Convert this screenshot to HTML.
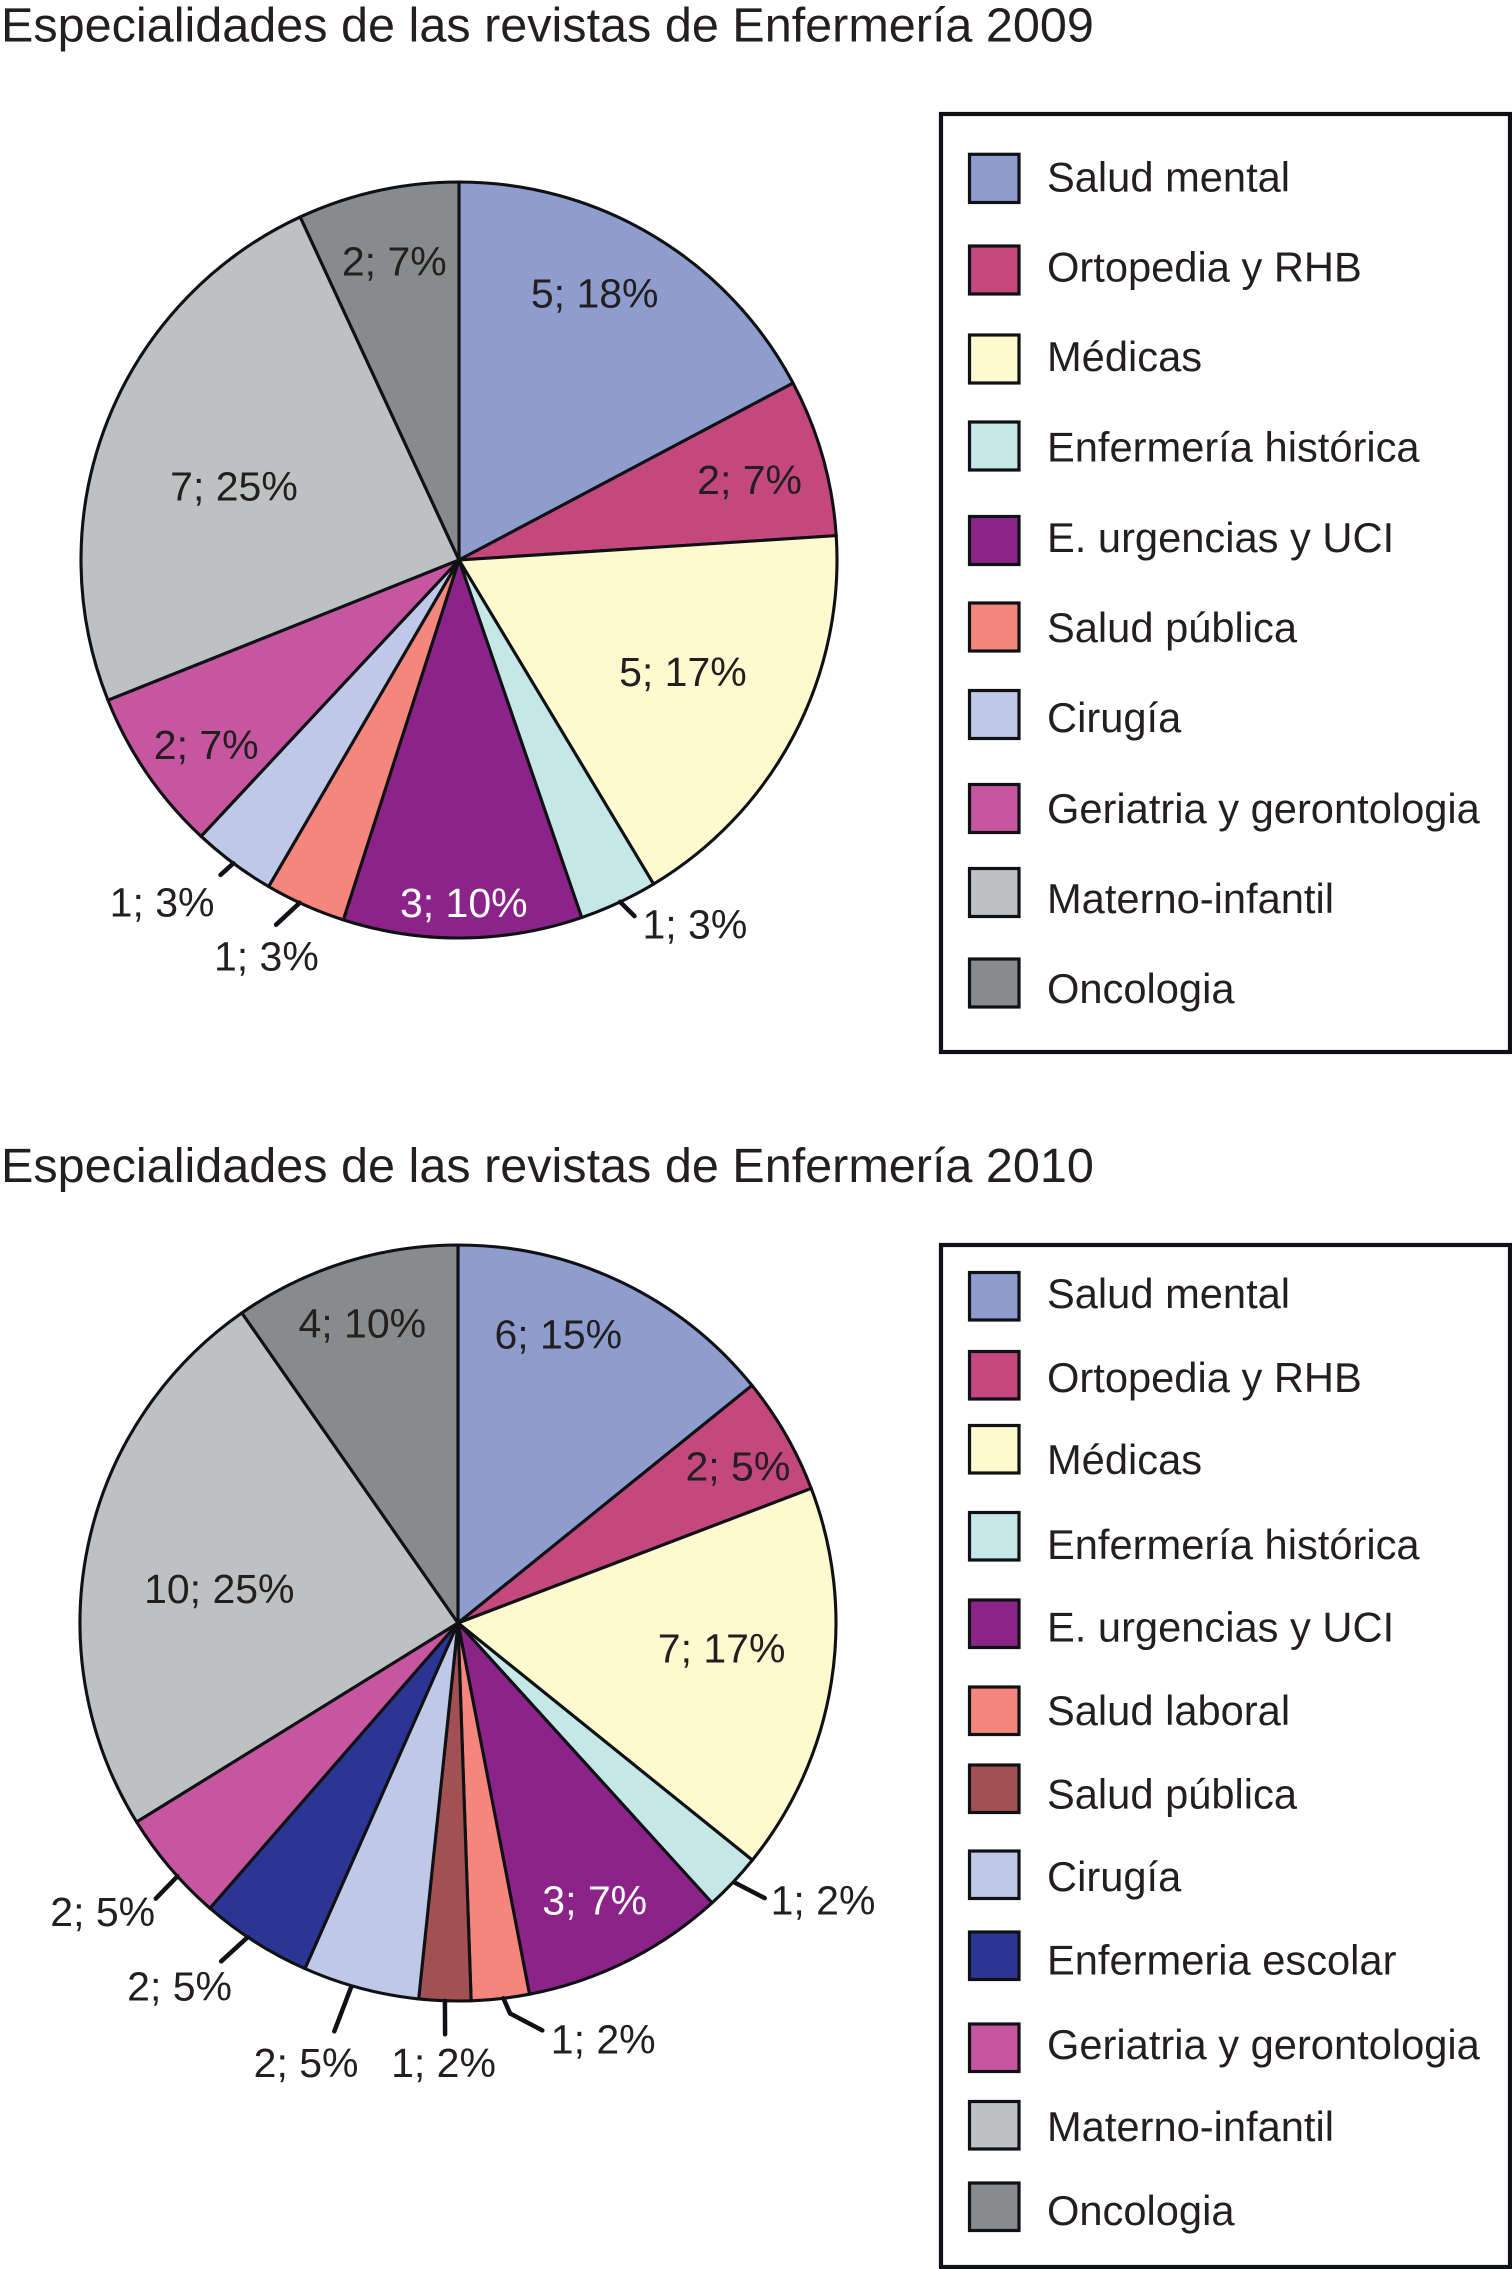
<!DOCTYPE html>
<html lang="es">
<head>
<meta charset="utf-8">
<title>Especialidades de las revistas de Enfermería</title>
<style>
  html, body { margin: 0; padding: 0; background: #fff; }
  svg { display: block; }
  text { font-family: "Liberation Sans", sans-serif; fill: #231f20; }
  .title { font-size: 48.55px; }
  .lg { font-size: 41.65px; }
  .sw { stroke: #0f1114; stroke-width: 3.2px; }
  .box { fill: #fff; stroke: #0f1114; stroke-width: 4.2px; }
</style>
</head>
<body>
<svg id="figure" xmlns="http://www.w3.org/2000/svg" width="1512" height="2269" viewBox="0 0 1512 2269">
  <text class="title" x="1" y="41.5">Especialidades de las revistas de Enfermería 2009</text>
  <g id="pie2009"></g>

  <g>
    <rect class="box" x="941" y="114" width="569" height="938"/>
    <g><rect class="sw" x="969.5" y="154.3" width="49.5" height="48.2" fill="#8f9dce"/><text class="lg" x="1047" y="191.6">Salud mental</text></g>
    <g><rect class="sw" x="969.5" y="246" width="49.5" height="48" fill="#c4477e"/><text class="lg" x="1047" y="281.5">Ortopedia y RHB</text></g>
    <g><rect class="sw" x="969.5" y="335" width="49.5" height="48" fill="#fef9cf"/><text class="lg" x="1047" y="371">Médicas</text></g>
    <g><rect class="sw" x="969.5" y="422" width="49.5" height="48" fill="#c5e7e8"/><text class="lg" x="1047" y="461.4">Enfermería histórica</text></g>
    <g><rect class="sw" x="969.5" y="516.5" width="49.5" height="48" fill="#8b2388"/><text class="lg" x="1047" y="552">E. urgencias y UCI</text></g>
    <g><rect class="sw" x="969.5" y="603" width="49.5" height="48" fill="#f4867e"/><text class="lg" x="1047" y="642">Salud pública</text></g>
    <g><rect class="sw" x="969.5" y="690.5" width="49.5" height="48" fill="#bfc8e6"/><text class="lg" x="1047" y="731.8">Cirugía</text></g>
    <g><rect class="sw" x="969.5" y="784.5" width="49.5" height="48" fill="#c6569f"/><text class="lg" x="1047" y="823">Geriatria y gerontologia</text></g>
    <g><rect class="sw" x="969.5" y="868.5" width="49.5" height="48" fill="#bdc1c2"/><text class="lg" x="1047" y="913">Materno-infantil</text></g>
    <g><rect class="sw" x="969.5" y="959" width="49.5" height="48" fill="#878b8c"/><text class="lg" x="1047" y="1002.8">Oncologia</text></g>
  </g>

  <text class="title" x="1" y="1182">Especialidades de las revistas de Enfermería 2010</text>
  <g id="pie2010"></g>

  <g>
    <rect class="box" x="941" y="1245" width="569" height="1022"/>
    <g><rect class="sw" x="969.5" y="1272.5" width="49.5" height="47.5" fill="#8f9dce"/><text class="lg" x="1047" y="1308">Salud mental</text></g>
    <g><rect class="sw" x="969.5" y="1351.5" width="49.5" height="47.5" fill="#c4477e"/><text class="lg" x="1047" y="1392">Ortopedia y RHB</text></g>
    <g><rect class="sw" x="969.5" y="1425.5" width="49.5" height="47.5" fill="#fef9cf"/><text class="lg" x="1047" y="1474.2">Médicas</text></g>
    <g><rect class="sw" x="969.5" y="1512.5" width="49.5" height="47.5" fill="#c5e7e8"/><text class="lg" x="1047" y="1559.2">Enfermería histórica</text></g>
    <g><rect class="sw" x="969.5" y="1600" width="49.5" height="47.5" fill="#8b2388"/><text class="lg" x="1047" y="1641.5">E. urgencias y UCI</text></g>
    <g><rect class="sw" x="969.5" y="1687" width="49.5" height="47.5" fill="#f4867e"/><text class="lg" x="1047" y="1725">Salud laboral</text></g>
    <g><rect class="sw" x="969.5" y="1765" width="49.5" height="47.5" fill="#a35053"/><text class="lg" x="1047" y="1808.7">Salud pública</text></g>
    <g><rect class="sw" x="969.5" y="1851" width="49.5" height="47.5" fill="#bfc8e6"/><text class="lg" x="1047" y="1891">Cirugía</text></g>
    <g><rect class="sw" x="969.5" y="1932" width="49.5" height="47.5" fill="#2b3694"/><text class="lg" x="1047" y="1974.7">Enfermeria escolar</text></g>
    <g><rect class="sw" x="969.5" y="2024" width="49.5" height="47.5" fill="#c6569f"/><text class="lg" x="1047" y="2059">Geriatria y gerontologia</text></g>
    <g><rect class="sw" x="969.5" y="2101.5" width="49.5" height="47.5" fill="#bdc1c2"/><text class="lg" x="1047" y="2141">Materno-infantil</text></g>
    <g><rect class="sw" x="969.5" y="2183" width="49.5" height="47.5" fill="#878b8c"/><text class="lg" x="1047" y="2225">Oncologia</text></g>
  </g>

<script>
// ---- data: 2009 (slice sizes as drawn) ----
const categories2009 = ["Salud mental","Ortopedia y RHB","Médicas","Enfermería histórica","E. urgencias y UCI","Salud pública","Cirugía","Geriatria y gerontologia","Materno-infantil","Oncologia"];
const values2009 = [5,1.95,5.05,0.97,2.96,1,1.03,2.03,7,2];
const printed2009 = ["5; 18%","2; 7%","5; 17%","1; 3%","3; 10%","1; 3%","1; 3%","2; 7%","7; 25%","2; 7%"];

// ---- data: 2010 (slice sizes as drawn; the purple slice is drawn larger than its printed count) ----
const categories2010 = ["Salud mental","Ortopedia y RHB","Médicas","Enfermería histórica","E. urgencias y UCI","Salud laboral","Salud pública","Cirugía","Enfermeria escolar","Geriatria y gerontologia","Materno-infantil","Oncologia"];
const values2010 = [5.9,2.09,6.9,1.03,3.62,1.03,0.92,2.07,1.98,1.99,10.04,4.03];
const printed2010 = ["6; 15%","2; 5%","7; 17%","1; 2%","3; 7%","1; 2%","1; 2%","2; 5%","2; 5%","2; 5%","10; 25%","4; 10%"];

// ---- styling ----
const colors2009 = ["#8f9dce","#c4477e","#fef9cf","#c5e7e8","#8b2388","#f4867e","#bfc8e6","#c6569f","#bdc1c2","#878b8c"];
const colors2010 = ["#8f9dce","#c4477e","#fef9cf","#c5e7e8","#8b2388","#f4867e","#a35053","#bfc8e6","#2b3694","#c6569f","#bdc1c2","#878b8c"];

// ---- label layout, relative to each slice's mid-angle: [angle offset in degrees, radius] ----
const labelLayout2009 = [[-4.1,299.5],[0.28,301.6],[-1.23,250],[-7.97,433.9],[-0.25,342.5],[1.9,440.4],[4.31,453],[-1.77,313],[-3.48,236.9],[0.21,305.9]];
const labelLayout2010 = [[-6.39,305.8],[0.63,320.9],[-3.63,264.8],[-6.12,458.2],[0.29,308.8],[-12.8,440.6],[-0.1,439.7],[4.13,465.2],[5.04,457.4],[1.3,457.6],[-3.45,241.2],[-0.25,315.1]];
const leaderLayout2009 = {3:[[-0.27,378],[-1.27,397]],5:[[0.9,378],[2.6,408]],6:[[0.01,378],[0.51,395]]};
const leaderLayout2010 = {3:[[-0.12,379],[-1.42,412]],5:[[-0.45,378],[-1.15,394],[-5.25,416]],6:[[0,378],[-0.2,411.5]],7:[[1.43,379],[1.93,426.6]],8:[[1.34,378],[2.54,413]],9:[[-1.7,378],[-2,409]]};
const whiteLabelIndex2009 = 4;
const whiteLabelIndex2010 = 4;

const NS = "http://www.w3.org/2000/svg";

function polar(cx, cy, deg, r) {
  const a = deg * Math.PI / 180;
  return [cx + r * Math.sin(a), cy - r * Math.cos(a)];
}

function slug(s) {
  return s.toLowerCase().normalize("NFD").replace(/[\u0300-\u036f]/g, "").replace(/[^a-z0-9]+/g, "-");
}

function drawPie(host, cx, cy, R, cats, vals, cols, printed, labelLayout, leaderLayout, whiteIdx) {
  const total = vals.reduce(function (a, b) { return a + b; }, 0);
  let cum = 0;
  const mids = [];
  vals.forEach(function (v, i) {
    const a0 = cum / total * 360;
    cum += v;
    const a1 = cum / total * 360;
    mids.push((a0 + a1) / 2);
    const p0 = polar(cx, cy, a0, R);
    const p1 = polar(cx, cy, a1, R);
    const large = (a1 - a0) > 180 ? 1 : 0;
    const path = document.createElementNS(NS, "path");
    path.setAttribute("d", "M" + cx + " " + cy + "L" + p0[0].toFixed(2) + " " + p0[1].toFixed(2) + "A" + R + " " + R + " 0 " + large + " 1 " + p1[0].toFixed(2) + " " + p1[1].toFixed(2) + "Z");
    path.setAttribute("fill", cols[i]);
    path.setAttribute("stroke", "#0f1114");
    path.setAttribute("stroke-width", "3.1");
    path.setAttribute("stroke-linejoin", "round");
    
    
    host.appendChild(path);
  });
  Object.keys(leaderLayout).forEach(function (k) {
    const pts = leaderLayout[k].map(function (q) {
      const p = polar(cx, cy, mids[k] + q[0], q[1]);
      return p[0].toFixed(1) + "," + p[1].toFixed(1);
    }).join(" ");
    const line = document.createElementNS(NS, "polyline");
    line.setAttribute("points", pts);
    line.setAttribute("fill", "none");
    line.setAttribute("stroke", "#0f1114");
    line.setAttribute("stroke-width", "4.5");
    line.setAttribute("stroke-linecap", "round");
    
    
    host.appendChild(line);
  });
  printed.forEach(function (s, i) {
    const p = polar(cx, cy, mids[i] + labelLayout[i][0], labelLayout[i][1]);
    const t = document.createElementNS(NS, "text");
    t.setAttribute("x", p[0].toFixed(1));
    t.setAttribute("y", (p[1] + 14.5).toFixed(1));
    t.setAttribute("text-anchor", "middle");
    t.setAttribute("font-size", "41");
    if (i === whiteIdx) { t.setAttribute("style", "fill:#ffffff"); }
    
    
    t.textContent = s;
    host.appendChild(t);
  });
}

drawPie(document.getElementById("pie2009"), 459, 560, 378, categories2009, values2009, colors2009, printed2009, labelLayout2009, leaderLayout2009, whiteLabelIndex2009);
drawPie(document.getElementById("pie2010"), 458, 1623, 378, categories2010, values2010, colors2010, printed2010, labelLayout2010, leaderLayout2010, whiteLabelIndex2010);
</script>
</svg>
</body>
</html>
